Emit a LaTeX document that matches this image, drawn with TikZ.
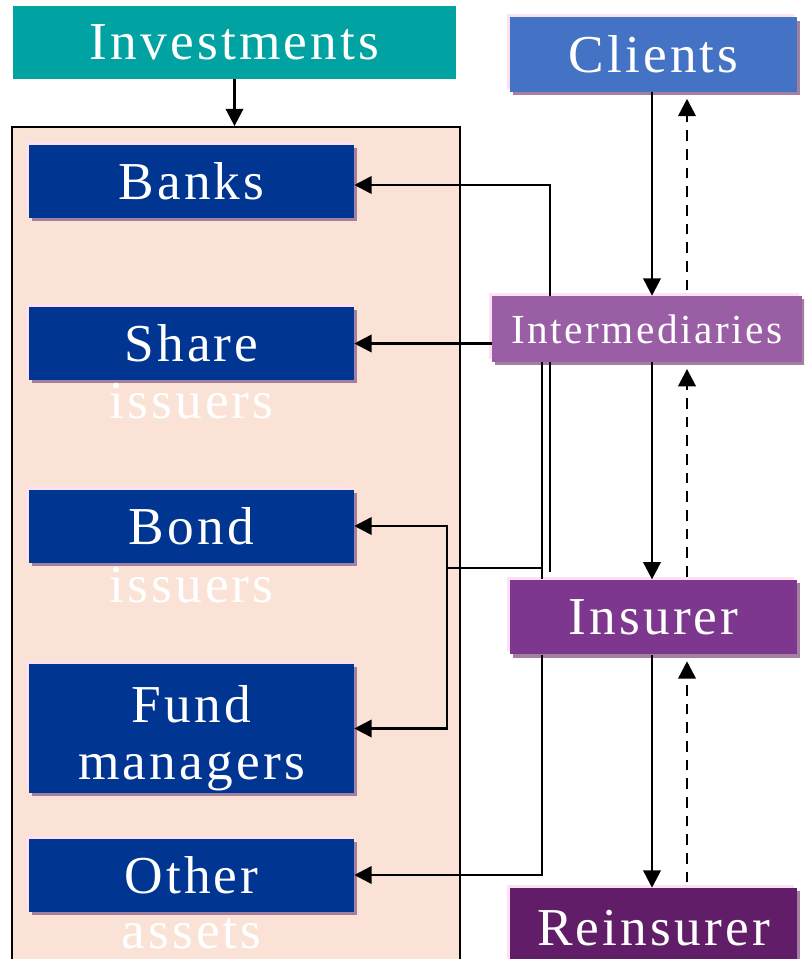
\documentclass[tikz,border=0pt]{standalone}
\usepackage{fontspec}
\setmainfont{Liberation Serif}
\newfontfamily\spaced[LetterSpace=6]{Liberation Serif}
\usetikzlibrary{arrows.meta,shadows}

\definecolor{invteal}{HTML}{00A3A1}
\definecolor{poolpeach}{HTML}{FAE3D6}
\definecolor{assetnavy}{HTML}{003591}
\definecolor{clientblue}{HTML}{4472C4}
\definecolor{intermauve}{HTML}{9A5EA4}
\definecolor{insurerplum}{HTML}{7E378E}
\definecolor{reinsplum}{HTML}{621D69}
\definecolor{glowpink}{HTML}{FCE1F5}
\definecolor{shadowmauve}{HTML}{A3809F}

\begin{document}
\begin{tikzpicture}[x=0.75pt,y=-0.75pt,
  label font/.style={font=\spaced\fontsize{40}{43}\selectfont},
  box/.style={fill=#1, text=white, inner sep=0pt, align=center, label font,
    general shadow={fill=glowpink, shadow xshift=-2.25pt, shadow yshift=2.25pt},
    general shadow={fill=shadowmauve, shadow xshift=2.6pt, shadow yshift=-2.6pt}},
  assetbox/.style={box=assetnavy, minimum width=243.75pt, minimum height=54.75pt},
  partybox/.style={box=#1, minimum width=215.25pt, minimum height=56pt},
  sublabel/.style={text=white, inner sep=0pt, anchor=base, label font},
  link/.style={line width=2pt},
  arr/.style={link, -{Triangle[length=13pt,width=13pt]}},
  backarr/.style={arr, dash pattern=on 8pt off 6pt}
]
\useasboundingbox (0,0) rectangle (804,959);
\clip (0,0) rectangle (804,959);

% investment pool
\node (inv) [fill=invteal, text=white, inner sep=0pt, label font,
  minimum width=332.25pt, minimum height=54.75pt] at (234.5,42.5) {Investments};
\node (pool) [draw, line width=1.3pt, fill=poolpeach, inner sep=0pt,
  minimum width=336pt, minimum height=630pt] at (236,547) {};

% asset classes
\node (banks) [assetbox] at (191.5,181.5) {Banks};
\node (share) [assetbox] at (191.5,343.5) {Share};
\node (bond)  [assetbox] at (191.5,526) {Bond};
\node (fund)  [assetbox, minimum height=96.75pt] at (191.5,728.5)
  {\rule{0pt}{42pt}Fund\\managers};
\node (other) [assetbox] at (191.5,875) {Other};
\node (shareSub) [sublabel] at (191.5,418) {issuers};
\node (bondSub)  [sublabel] at (191.5,602) {issuers};
\node (otherSub) [sublabel] at (191.5,948) {assets};

% risk chain
\node (clients) [partybox=clientblue] at (653.5,54.5) {Clients};
\node (inter) [box=intermauve, font=\spaced\fontsize{31}{34}\selectfont,
  minimum width=232.5pt, minimum height=49.5pt] at (647,329) {Intermediaries};
\node (insurer) [partybox=insurerplum] at (653.5,617) {Insurer};
\node (reins) [partybox=reinsplum, minimum height=60pt] at (653.5,928) {Reinsurer};

% routing columns and junctions
\coordinate (down) at (652,0);
\coordinate (up) at (687,0);
\coordinate (bk) at (550,185);
\coordinate (tl) at (550,572);
\coordinate (jr) at (542,568);
\coordinate (jn) at (447,568);

\draw[arr] (inv.south) -- (inv.south |- pool.north);

% premiums down, cover up
\draw[arr] (clients.south -| down) -- (inter.north -| down);
\draw[arr] (inter.south -| down) -- (insurer.north -| down);
\draw[arr] (insurer.south -| down) -- (reins.north -| down);
\draw[backarr, shorten <=4pt, shorten >=5pt] (inter.north -| up) -- (clients.south -| up);
\draw[backarr, shorten <=2pt, shorten >=5pt] (insurer.north -| up) -- (inter.south -| up);
\draw[backarr, shorten <=4pt, shorten >=5pt] (reins.north -| up) -- (insurer.south -| up);

% flows into the asset classes
\draw[arr] (inter.north -| bk) -- (bk) -- (bk -| banks.east);
\draw[arr] (share.east -| inter.west) -- (share.east);
\draw[link] (inter.south -| tl) -- (tl);
\draw[link] (inter.south -| jr) -- (jr) -- (jn);
\draw[link] (jr) -- (insurer.north -| jr);
\draw[arr] (jn) |- (bond.east);
\draw[arr] (jn) |- (fund.east);
\draw[arr] (insurer.south -| jr) |- (other.east);
\end{tikzpicture}
\end{document}
